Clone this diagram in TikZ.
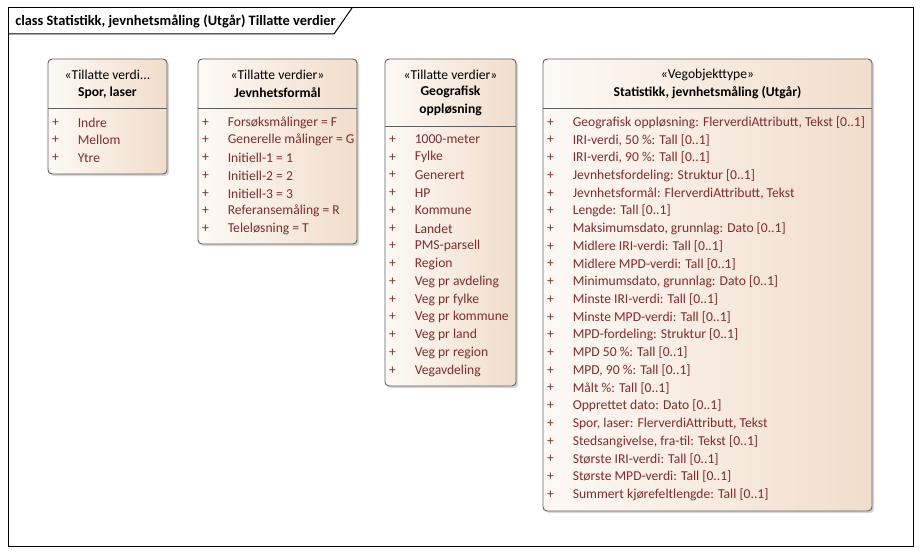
\documentclass[tikz,border=0pt]{standalone}
\usepackage{fontspec}
\setmainfont{Carlito}
\usetikzlibrary{shapes,positioning,calc,shadows}

\definecolor{classleft}{RGB}{253,249,245}
\definecolor{classright}{RGB}{241,221,203}
\definecolor{itemred}{RGB}{125,45,45}
\definecolor{boxline}{RGB}{95,95,95}

\begin{document}
\begin{tikzpicture}[x=0.75pt,y=-0.75pt,
  classbox/.style={rectangle,rounded corners=3pt,draw=boxline,line width=0.7pt,
                   left color=classleft,right color=classright,inner sep=0pt,
                   drop shadow={shadow xshift=1.6pt,shadow yshift=-1.6pt,fill=black!35,opacity=0.45}},
  stereo/.style={font=\fontsize{10.2}{12}\selectfont,inner sep=0pt,align=center},
  cname/.style={font=\fontsize{10.2}{13}\selectfont\bfseries,inner sep=0pt,align=center},
  plus/.style={font=\fontsize{10.2}{12}\selectfont,text=itemred,inner sep=0pt},
  item/.style={font=\fontsize{10.2}{12}\selectfont,text=itemred,inner sep=0pt,anchor=west},
  sepline/.style={draw=boxline,line width=0.7pt},
  frameline/.style={draw=black,line width=0.75pt}
]
\useasboundingbox (0,0) rectangle (921,555);

% ===== FRAME =====
\draw[frameline] (8,8) rectangle (913,547);
\draw[frameline] (8,34) -- (334,34) -- (352,8);
\node[font=\fontsize{10.8}{12}\selectfont\bfseries,anchor=west,inner sep=0pt] (title) at (15,21)
  {class Statistikk, jevnhetsmåling (Utgår) Tillatte verdier};

% ===== SPOR, LASER =====
\node[classbox,minimum width=89.25pt,minimum height=86.25pt] (spor) at (107.5,116.5) {};
\node[stereo] (spor-st) at ($(spor.north)+(0,16)$) {«Tillatte verdi...};
\node[cname] (spor-nm) at ($(spor.north)+(0,34)$) {Spor, laser};
\draw[sepline] ($(spor.north west)+(0,50)$) -- ($(spor.north east)+(0,50)$);
\foreach \t [count=\i from 0] in {Indre,Mellom,Ytre} {
  \node[plus] (spor-p\i) at ($(spor.north west)+(8,64+17.72*\i)$) {+};
  \node[item] (spor-a\i) at ($(spor.north west)+(30,64+17.72*\i)$) {\t};
}

% ===== JEVNHETSFORMAAL =====
\node[classbox,minimum width=119.25pt,minimum height=138.75pt] (formal) at (277.5,151.5) {};
\node[stereo] (formal-st) at ($(formal.north)+(0,16)$) {«Tillatte verdier»};
\node[cname] (formal-nm) at ($(formal.north)+(0,34)$) {Jevnhetsformål};
\draw[sepline] ($(formal.north west)+(0,50)$) -- ($(formal.north east)+(0,50)$);
\foreach \t [count=\i from 0] in {Forsøksmålinger = F,Generelle målinger = G,Initiell-1 = 1,
    Initiell-2 = 2,Initiell-3 = 3,Referansemåling = R,Teleløsning = T} {
  \node[plus] (formal-p\i) at ($(formal.north west)+(8,64+17.72*\i)$) {+};
  \node[item] (formal-a\i) at ($(formal.north west)+(30,64+17.72*\i)$) {\t};
}

% ===== GEOGRAFISK OPPLOESNING =====
\node[classbox,minimum width=98.25pt,minimum height=245.25pt] (geo) at (450.5,222.5) {};
\node[stereo] (geo-st) at ($(geo.north)+(0,16)$) {«Tillatte verdier»};
\node[cname] (geo-nm) at ($(geo.north)+(0,42.5)$) {Geografisk\\oppløsning};
\draw[sepline] ($(geo.north west)+(0,68)$) -- ($(geo.north east)+(0,68)$);
\foreach \t [count=\i from 0] in {1000-meter,Fylke,Generert,HP,Kommune,Landet,PMS-parsell,Region,
    Veg pr avdeling,Veg pr fylke,Veg pr kommune,Veg pr land,Veg pr region,Vegavdeling} {
  \node[plus] (geo-p\i) at ($(geo.north west)+(8,81+17.77*\i)$) {+};
  \node[item] (geo-a\i) at ($(geo.north west)+(30,81+17.77*\i)$) {\t};
}

% ===== VEGOBJEKTTYPE =====
\node[classbox,minimum width=246.75pt,minimum height=339pt] (stat) at (707.5,285) {};
\node[stereo] (stat-st) at ($(stat.north)+(0,16)$) {«Vegobjekttype»};
\node[cname] (stat-nm) at ($(stat.north)+(0,34)$) {Statistikk, jevnhetsmåling (Utgår)};
\draw[sepline] ($(stat.north west)+(0,50)$) -- ($(stat.north east)+(0,50)$);
\foreach \t [count=\i from 0] in {
    {Geografisk oppløsning: FlerverdiAttributt, Tekst [0..1]},
    {IRI-verdi, 50 \%: Tall [0..1]},
    {IRI-verdi, 90 \%: Tall [0..1]},
    {Jevnhetsfordeling: Struktur [0..1]},
    {Jevnhetsformål: FlerverdiAttributt, Tekst},
    {Lengde: Tall [0..1]},
    {Maksimumsdato, grunnlag: Dato [0..1]},
    {Midlere IRI-verdi: Tall [0..1]},
    {Midlere MPD-verdi: Tall [0..1]},
    {Minimumsdato, grunnlag: Dato [0..1]},
    {Minste IRI-verdi: Tall [0..1]},
    {Minste MPD-verdi: Tall [0..1]},
    {MPD-fordeling: Struktur [0..1]},
    {MPD 50 \%: Tall [0..1]},
    {MPD, 90 \%: Tall [0..1]},
    {Målt \%: Tall [0..1]},
    {Opprettet dato: Dato [0..1]},
    {Spor, laser: FlerverdiAttributt, Tekst},
    {Stedsangivelse, fra-til: Tekst [0..1]},
    {Største IRI-verdi: Tall [0..1]},
    {Største MPD-verdi: Tall [0..1]},
    {Summert kjørefeltlengde: Tall [0..1]}} {
  \node[plus] (stat-p\i) at ($(stat.north west)+(8,64+17.714*\i)$) {+};
  \node[item] (stat-a\i) at ($(stat.north west)+(30,64+17.714*\i)$) {\t};
}

\end{tikzpicture}
\end{document}
